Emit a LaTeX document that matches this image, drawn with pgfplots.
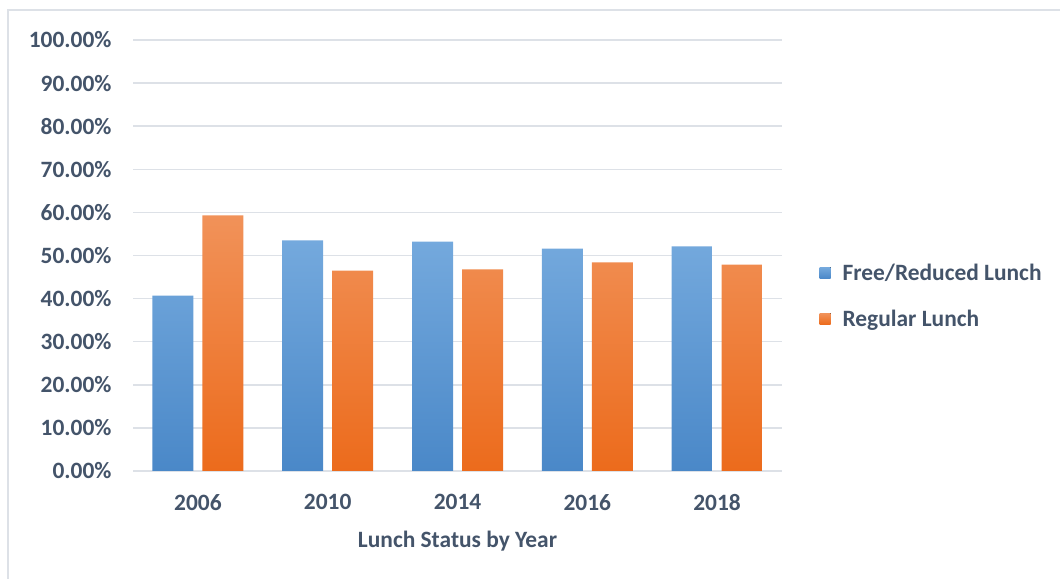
\documentclass[border=0pt]{standalone}
\usepackage{pgfplots}
\pgfplotsset{compat=1.18}
\usepackage{fontspec}
\setmainfont{Carlito}
\definecolor{txt}{HTML}{44546A}
\definecolor{gridc}{HTML}{DDE1E7}
\definecolor{btop}{HTML}{74A9DD}
\definecolor{bbot}{HTML}{4A88C8}
\definecolor{otop}{HTML}{F19259}
\definecolor{obot}{HTML}{EC6B1C}
\newcommand{\lf}{\fontsize{23.5}{26}\selectfont\bfseries}
\begin{document}
\begin{tikzpicture}[x=1bp,y=1bp]
\path[use as bounding box] (0,0) rectangle (1060,579);
\draw[gridc, line width=1.2bp] (8,0) -- (8,569) -- (1060,569);
\begin{axis}[
  at={(133bp,108bp)}, anchor=south west,
  scale only axis, width=649bp, height=431bp,
  ymin=0, ymax=100, xmin=-0.5, xmax=4.5,
  ybar=9bp, bar width=41bp,
  axis line style={draw=none},
  ytick={0,10,...,100},
  yticklabels={0.00\%,10.00\%,20.00\%,30.00\%,40.00\%,50.00\%,60.00\%,70.00\%,80.00\%,90.00\%,100.00\%},
  xtick={0,1,2,3,4},
  xticklabels={2006,2010,2014,2016,2018},
  major tick length=0pt,
  xmajorgrids=false, ymajorgrids=true,
  y grid style={draw=gridc, line width=1.5bp},
  tick label style={font=\lf, text=txt},
  yticklabel style={xshift=-18bp},
  xticklabel style={yshift=-20bp},
  xlabel={Lunch Status by Year},
  xlabel style={font=\lf, text=txt, yshift=-13bp},
  legend style={at={(1.053,0.405)}, anchor=west, draw=none, fill=none,
    font=\lf, text=txt, row sep=26bp, nodes={inner sep=1bp}},
  legend cell align=left,
  legend image code/.code={\fill[#1] (0bp,-5bp) rectangle (11bp,6bp); \path (0bp,0bp) -- (22bp,0bp);},
]
\addplot[draw=none, top color=btop, bottom color=bbot] coordinates {(0,40.7) (1,53.5) (2,53.2) (3,51.6) (4,52.1)};
\addplot[draw=none, top color=otop, bottom color=obot] coordinates {(0,59.3) (1,46.5) (2,46.8) (3,48.4) (4,47.9)};
\legend{Free/Reduced Lunch, Regular Lunch}
\end{axis}
\end{tikzpicture}
\end{document}
